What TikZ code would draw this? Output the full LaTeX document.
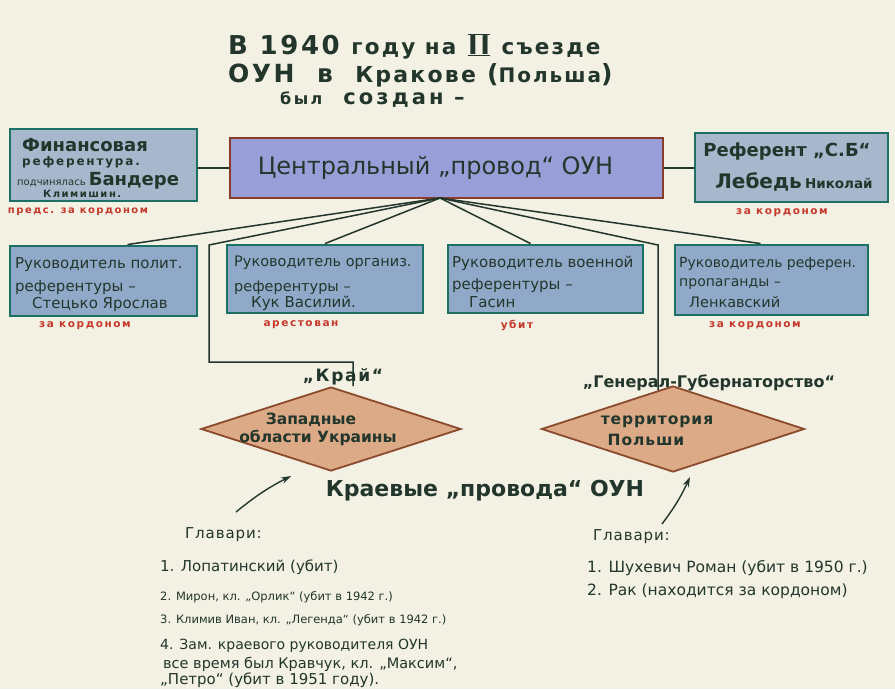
\documentclass[tikz,border=0pt]{standalone}
\usepackage{fontspec}
\setmainfont{DejaVu Sans}
\newfontfamily\lsa[LetterSpace=6]{DejaVu Sans}
\newfontfamily\lsb[LetterSpace=10]{DejaVu Sans}
\newfontfamily\lsc[LetterSpace=15]{DejaVu Sans}
\usetikzlibrary{shapes.geometric,arrows.meta,calc}
\definecolor{paper}{HTML}{F3F0E4}
\definecolor{ink}{HTML}{22362B}
\definecolor{boxedge}{HTML}{1D7064}
\definecolor{boxfill}{HTML}{91A9C9}
\definecolor{boxfilltop}{HTML}{A7B8CD}
\definecolor{cenfill}{HTML}{9A9ED8}
\definecolor{cenedge}{HTML}{8A3C2C}
\definecolor{tanfill}{HTML}{DDAA88}
\definecolor{tanedge}{HTML}{8C4A2C}
\definecolor{redtxt}{HTML}{C4392B}
\newcommand{\fs}[1]{\fontsize{#1}{#1}\selectfont}
\tikzset{
  refbox/.style={draw=boxedge, line width=2.9pt, fill=boxfill, inner sep=0pt},
  bt/.style={text=ink, inner sep=0pt, anchor=west},
  redlab/.style={text=redtxt, font=\lsc\bfseries\fs{10.5}, inner sep=0pt},
  conn/.style={draw=ink, line width=1.5pt},
  rhomb/.style={diamond, draw=tanedge, line width=1.8pt, fill=tanfill, inner sep=0pt,
    shape aspect=3.1},
  rhtext/.style={text=ink, font=\bfseries\fs{15.5}, inner sep=0pt},
  listtxt/.style={text=ink, font=\fs{11.5}, anchor=west, inner sep=0pt},
  titletxt/.style={text=ink, font=\bfseries, inner sep=0pt, anchor=west},
  arr/.style={draw=ink, line width=1.4pt, -{Stealth[length=10pt,width=6.5pt]}}
}
\begin{document}
\begin{tikzpicture}[x=1pt,y=-1pt]
\fill[paper] (0,0) rectangle (895,689);
\useasboundingbox (0,0) rectangle (895,689);

% title
\node[titletxt, font=\lsb\bfseries\fs{26}] (t1) at (228,46) {В 1940 {\fs{21.5}году на} \ensuremath{\overline{\underline{\hbox{II}}}} {\fs{21.5}съезде}};
\node[titletxt, font=\lsb\bfseries\fs{25}] (t2) at (228,75) {ОУН\ \ в\ \ {\fs{22}Кракове} ({\fs{20}Польша})};
\node[titletxt, font=\lsc\bfseries\fs{21}] (t3) at (280,100) {{\fs{16}был}\ \ создан –};

% central
\node[draw=cenedge, line width=2pt, fill=cenfill, minimum width=433pt, minimum height=60pt,
  inner sep=0pt, text=ink, font=\fs{24}] (cen) at (446.5,168) {Центральный „провод“ ОУН\hspace*{22pt}};

% top boxes
\node[refbox, fill=boxfilltop, minimum width=187pt, minimum height=72pt] (fin) at (103.5,165) {};
\node[bt, font=\bfseries\fs{18}] (fina) at (22,145) {Финансовая};
\node[bt, font=\lsc\bfseries\fs{12}] (finb) at (22,162) {референтура.};
\node[bt] (finc) at (17,181) {{\fs{10}подчинялась} {\bfseries\fs{18}Бандере}};
\node[bt, font=\lsc\bfseries\fs{10}] (find) at (43,194) {Климишин.};

\node[refbox, fill=boxfilltop, minimum width=193pt, minimum height=69pt] (sb) at (791.5,167.5) {};
\node[text=ink, inner sep=0pt, font=\bfseries\fs{18}] (sba) at (787,152) {Референт „С.Б“};
\node[text=ink, inner sep=0pt] (sbb) at (794,182) {{\bfseries\fs{20}Лебедь} {\bfseries\fs{13.5}Николай}};
\node[redlab, font=\lsc\bfseries\fs{10}] (rfin) at (78,212) {предс. за кордоном};
\node[redlab] (rsb) at (782,213) {за кордоном};

% second row
\node[refbox, minimum width=187pt, minimum height=70pt] (b1) at (103.5,281) {};
\node[bt, font=\fs{15}] (b1a) at (15,265) {Руководитель полит.};
\node[bt, font=\fs{15}] (b1b) at (15,288) {референтуры –};
\node[bt, font=\fs{15}] (b1c) at (32,304) {Стецько Ярослав};

\node[refbox, minimum width=196pt, minimum height=68pt] (b2) at (325,279) {};
\node[bt, font=\fs{14.5}] (b2a) at (234,263) {Руководитель организ.};
\node[bt, font=\fs{14.5}] (b2b) at (234,288) {референтуры –};
\node[bt, font=\fs{15}] (b2c) at (251,303) {Кук Василий.};

\node[refbox, minimum width=195pt, minimum height=68pt] (b3) at (545.5,279) {};
\node[bt, font=\fs{15}] (b3a) at (452,263) {Руководитель военной};
\node[bt, font=\fs{15}] (b3b) at (452,286) {референтуры –};
\node[bt, font=\fs{15}] (b3c) at (469,302) {Гасин};

\node[refbox, minimum width=193pt, minimum height=70pt] (b4) at (771.5,280) {};
\node[bt, font=\fs{14}] (b4a) at (679,264) {Руководитель референ.};
\node[bt, font=\fs{14}] (b4b) at (679,284) {пропаганды –};
\node[bt, font=\fs{14.5}] (b4c) at (689,302) {Ленкавский};

\node[redlab] (r1) at (85,326) {за кордоном};
\node[redlab] (r2) at (301,325) {арестован};
\node[redlab] (r3) at (517,325) {убит};
\node[redlab] (r4) at (755,326) {за кордоном};

% diamonds
\node[rhomb, minimum width=260pt, minimum height=84pt] (d1) at (331,429) {};
\node[rhtext] (d1a) at (311,420) {Западные};
\node[rhtext] (d1b) at (318,438) {области Украины};
\node[rhomb, minimum width=263pt, minimum height=86pt] (d2) at (673,429) {};
\node[rhtext, font=\lsa\bfseries\fs{15.5}] (d2a) at (657,422) {территория};
\node[rhtext, font=\lsa\bfseries\fs{15.5}] (d2b) at (646,440) {Польши};
\node[text=ink, font=\lsb\bfseries\fs{17}, inner sep=0pt] (kraj) at (343,377) {„Край“};
\node[text=ink, font=\bfseries\fs{16}, inner sep=0pt] (gg) at (709,383) {„Генерал-Губернаторство“};

% connectors
\coordinate (hub) at (440,198);
\draw[conn] (fin.east |- cen.west) -- (cen.west);
\draw[conn] (cen.east) -- (sb.west |- cen.east);
\draw[conn] (hub) -- ($(b1.north)+(24,0)$);
\draw[conn] (hub) -- (b2.north);
\draw[conn] (hub) -- ($(b3.north)+(-15,0)$);
\draw[conn] (hub) -- ($(b4.north)+(-11,0)$);
\coordinate (k1) at (209,245);
\coordinate (k2) at (353,362);
\coordinate (k3) at (658,245);
\draw[conn] (hub) -- (k1) |- (k2) -- (k2 |- d1.north);
\draw[conn] (hub) -- (k3) -- ($(k3 |- d2.north)+(0,5)$);

% caption
\node[text=ink, font=\bfseries\fs{22}, inner sep=0pt] (kp) at (485,491) {Краевые „провода“ ОУН};
\coordinate (a1s) at (236,512);
\coordinate (a1e) at (291,476);
\coordinate (a2s) at (662,524);
\coordinate (a2e) at (690,477);
\draw[arr] (a1s) to[bend left=6] (a1e);
\draw[arr] (a2s) to[bend right=6] (a2e);

% left list
\node[listtxt, font=\lsa\fs{15}] (gl) at (185,535) {Главари:};
\node[listtxt, font=\fs{15}] (l1) at (160,567) {1. Лопатинский (убит)};
\node[listtxt] (l2) at (160,597) {2. Мирон, кл. „Орлик“ (убит в 1942 г.)};
\node[listtxt] (l3) at (160,620) {3. Климив Иван, кл. „Легенда“ (убит в 1942 г.)};
\node[listtxt, font=\fs{14}] (l4) at (160,646) {4. Зам. краевого руководителя ОУН};
\node[listtxt, font=\fs{14.5}] (l5) at (160,664) {\hspace*{3pt}все время был Кравчук, кл. „Максим“,};
\node[listtxt, font=\fs{15}] (l6) at (160,680) {„Петро“ (убит в 1951 году).};

% right list
\node[listtxt, font=\lsa\fs{15}] (gr) at (593,537) {Главари:};
\node[listtxt, font=\fs{15.5}] (m1) at (587,568) {1. Шухевич Роман (убит в 1950 г.)};
\node[listtxt, font=\fs{15.5}] (m2) at (587,591) {2. Рак (находится за кордоном)};
\end{tikzpicture}
\end{document}
